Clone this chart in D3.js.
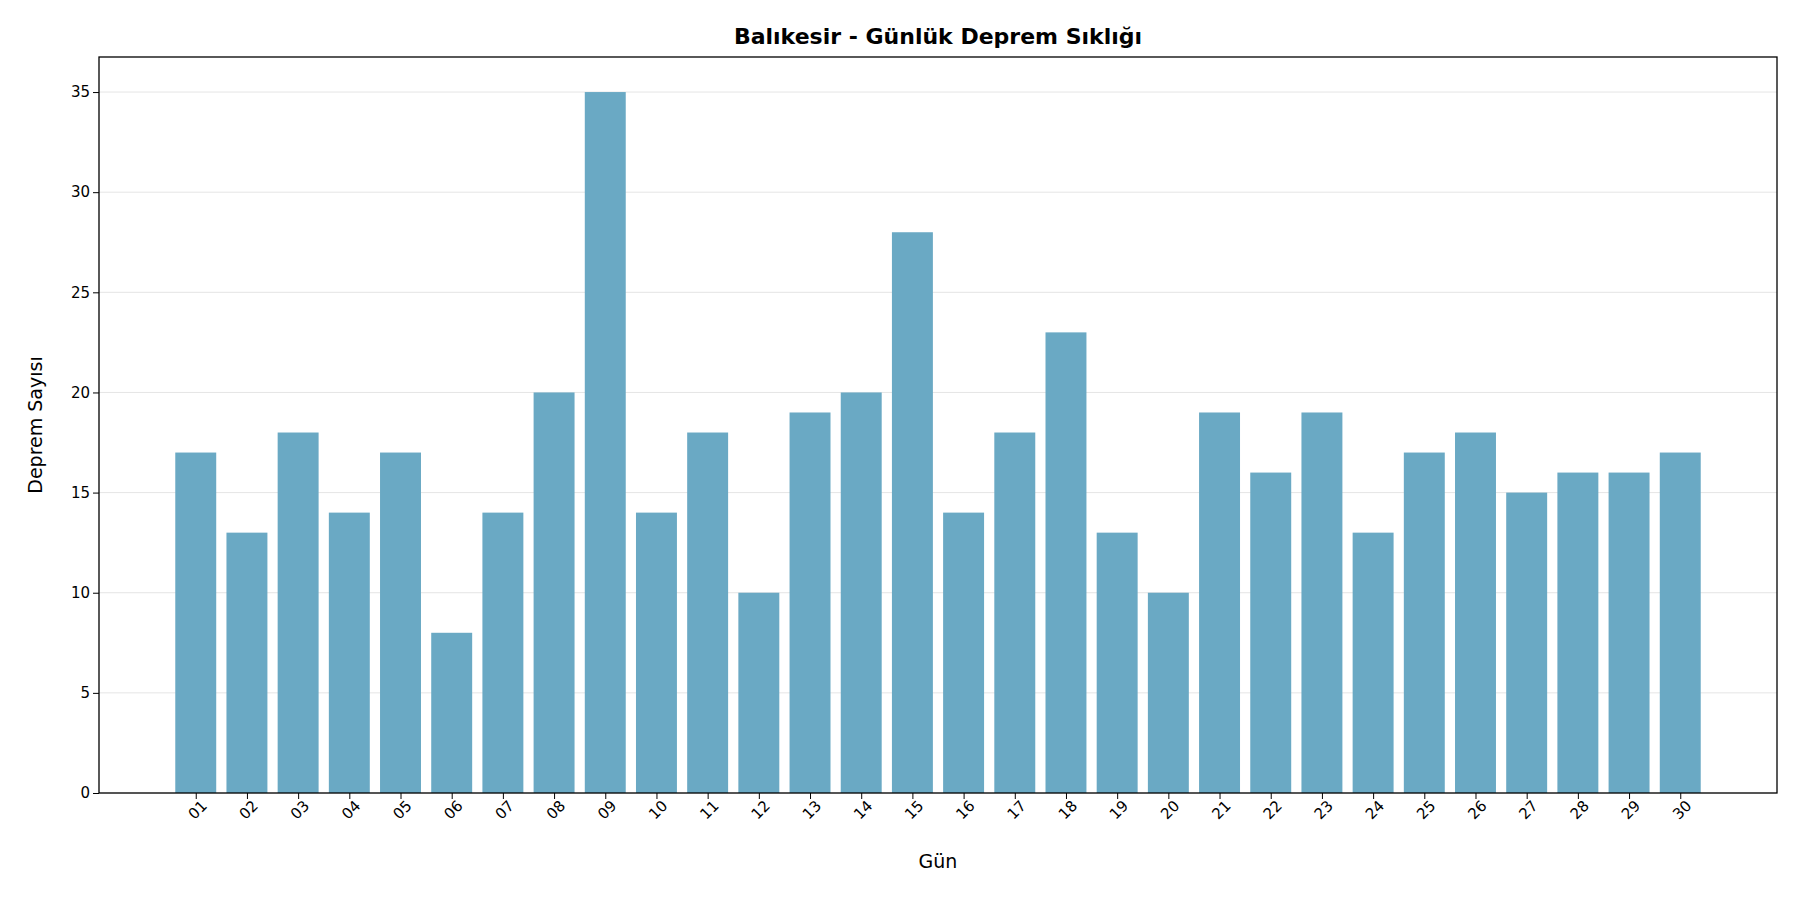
<!DOCTYPE html>
<html><head><meta charset="utf-8">
<script src="https://cdn.jsdelivr.net/npm/d3@7"></script>
<style>body{margin:0;background:#fff}text{font-family:"DejaVu Sans",sans-serif}</style>
</head><body><div id="chart"></div>
<script>
var days = ["01","02","03","04","05","06","07","08","09","10","11","12","13","14","15","16","17","18","19","20","21","22","23","24","25","26","27","28","29","30"];
var counts = [17,13,18,14,17,8,14,20,35,14,18,10,19,20,28,14,18,23,13,10,19,16,19,13,17,18,15,16,16,17];
var yTicks = [0,5,10,15,20,25,30,35];

var W = 1800, H = 900, mLeft = 99, mRight = 1777, mTop = 57, mBottom = 793;
var svg = d3.select("#chart").append("svg").attr("width", W).attr("height", H);

var x = d3.scaleLinear().domain([-1.89, 30.89]).range([mLeft, mRight]);
var y = d3.scaleLinear().domain([0, 36.75]).range([mBottom, mTop]);

// grid
svg.append("g").selectAll("line").data(yTicks).enter().append("line")
    .attr("x1", mLeft).attr("x2", mRight)
    .attr("y1", function (d) { return y(d); }).attr("y2", function (d) { return y(d); })
    .attr("stroke", "#e5e5e5").attr("stroke-width", 1);

var bw = x(0.8) - x(0);
svg.append("g").selectAll("rect").data(counts).enter().append("rect")
    .attr("x", function (d, i) { return x(i - 0.4); })
    .attr("y", function (d) { return y(d); })
    .attr("width", bw)
    .attr("height", function (d) { return y(0) - y(d); })
    .attr("fill", "#6aa9c4");

var xa = svg.append("g").attr("transform", "translate(0," + mBottom + ")")
    .call(d3.axisBottom(x).tickValues(d3.range(30)).tickFormat(function (d) { return days[d]; }).tickSize(6));
xa.select(".domain").remove();
xa.selectAll("text").attr("font-size", 15).attr("text-anchor", "end")
    .attr("transform", "rotate(-45)").attr("dx", "-0.1em").attr("dy", "0.6em");

var ya = svg.append("g").attr("transform", "translate(" + mLeft + ",0)")
    .call(d3.axisLeft(y).tickValues(yTicks).tickSize(6));
ya.select(".domain").remove();
ya.selectAll("text").attr("font-size", 15);

svg.append("rect").attr("x", mLeft).attr("y", mTop).attr("width", mRight - mLeft).attr("height", mBottom - mTop)
    .attr("fill", "none").attr("stroke", "#000").attr("stroke-width", 1.3);

svg.append("text").attr("x", (mLeft + mRight) / 2).attr("y", 44).attr("text-anchor", "middle")
    .attr("font-size", 22).attr("font-weight", "bold").text("Balıkesir - Günlük Deprem Sıklığı");
svg.append("text").attr("x", (mLeft + mRight) / 2).attr("y", 868).attr("text-anchor", "middle")
    .attr("font-size", 19).text("Gün");
svg.append("text").attr("transform", "translate(42," + ((mTop + mBottom) / 2) + ") rotate(-90)")
    .attr("text-anchor", "middle").attr("font-size", 19).text("Deprem Sayısı");
</script></body></html>
